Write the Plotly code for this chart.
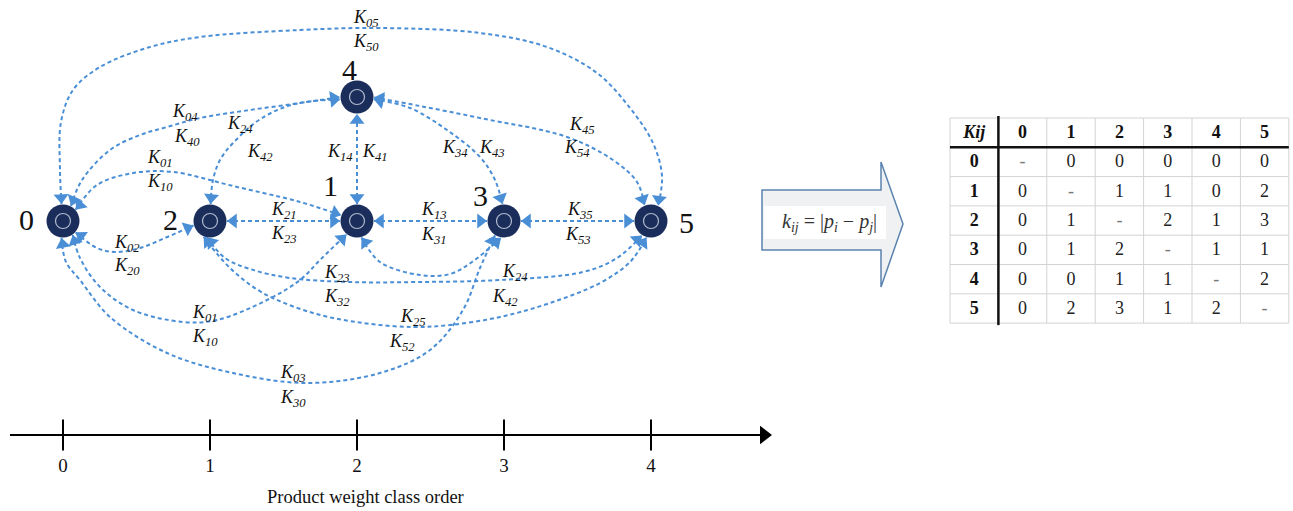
import math
import plotly.graph_objects as go

# ---------------- data ----------------
node_ids = [0, 1, 2, 3, 4, 5]
node_class = [0, 2, 1, 3, 2, 4]        # product weight class order of each node
node_tier = [0, 0, 0, 0, 1, 0]         # node 4 drawn on the raised row
axis_ticks = [0, 1, 2, 3, 4]
axis_title = "Product weight class order"

edge_from = [0, 0, 0, 2, 4, 4, 0, 2, 1, 3, 1, 2, 1, 0, 2, 0]
edge_to   = [5, 4, 1, 4, 3, 5, 2, 1, 3, 5, 4, 5, 3, 1, 5, 3]

edge_label_subs = ["05", "50", "04", "40", "24", "42", "01", "10", "14", "41",
                   "34", "43", "45", "54", "02", "20", "21", "23", "13", "31",
                   "35", "53", "23", "32", "24", "42", "01", "10", "25", "52",
                   "03", "30"]

table_header = ["Kij", "0", "1", "2", "3", "4", "5"]
table_row_labels = ["0", "1", "2", "3", "4", "5"]
table_values = [
    ["-", "0", "0", "0", "0", "0"],
    ["0", "-", "1", "1", "0", "2"],
    ["0", "1", "-", "2", "1", "3"],
    ["0", "1", "2", "-", "1", "1"],
    ["0", "0", "1", "1", "-", "2"],
    ["0", "2", "3", "1", "2", "-"],
]

# ---------------- layout / style ----------------
W, H = 1293, 511
PX0, PXSTEP = 63.0, 147.0          # pixel position of class 0 and pixels per class
ROW_Y, TIER_DY = 221.0, 124.0
R_TIP = 17.0
BLUE = "#4a8fd6"
NAVY = "#1b2d5b"
SERIF = "Liberation Serif, Times New Roman, serif"


def cx(px):
    return (px - PX0) / PXSTEP


def node_px(n):
    i = node_ids.index(n)
    return PX0 + PXSTEP * node_class[i], ROW_Y - TIER_DY * node_tier[i]


def tip(n, ang):
    x, y = node_px(n)
    a = math.radians(ang)
    return x + R_TIP * math.cos(a), y + R_TIP * math.sin(a)


# routing of each edge: attach angle at start, waypoints (px), attach angle at end
routes = [
    (-95, [(60, 170), (61, 122), (73, 90), (100, 67), (150, 47), (200, 37), (300, 30), (380, 28),
           (480, 33), (547, 47), (597, 73), (630, 108), (653, 143), (662, 176)], -65),
    (-62, [(82, 180), (110, 150), (140, 135), (167, 127), (200, 118), (250, 110), (300, 103)], 180),
    (-42, [(97, 185), (133, 173), (173, 172), (233, 186), (300, 202)], -160),
    (-88, [(213, 180), (220, 160), (234, 142), (262, 118), (295, 104)], 172),
    (8, [(410, 108), (447, 130), (480, 157), (495, 180)], -95),
    (2, [(420, 106), (480, 118), (567, 137), (613, 160), (637, 182)], -112),
    (42, [(97, 248), (115, 252), (140, 248), (165, 238)], 165),
    (0, [], 180),
    (0, [], 180),
    (0, [], 180),
    (-90, [], 90),
    (100, [(225, 258), (250, 269), (290, 278), (350, 282), (420, 282), (500, 280), (583, 272),
           (617, 258)], 122),
    (75, [(380, 262), (420, 275), (450, 274), (472, 262)], 100),
    (55, [(80, 258), (100, 287), (133, 310), (183, 322), (217, 320), (267, 300), (300, 280),
          (322, 258)], 128),
    (112, [(230, 268), (263, 293), (313, 313), (363, 323), (413, 327), (450, 325), (500, 317),
           (550, 303), (600, 283), (630, 262)], 105),
    (95, [(66, 262), (80, 280), (110, 317), (167, 353), (233, 373), (307, 383), (380, 373),
          (430, 350), (463, 310), (480, 268)], 122),
]

label_pos = [(366, 18), (366, 42), (185, 112), (187, 137), (240, 124), (260, 152),
             (160, 158), (160, 182), (340, 152), (375, 152), (455, 148), (492, 148),
             (582, 125), (577, 148), (127, 243), (127, 266), (284, 210), (284, 234),
             (434, 210), (434, 235), (580, 210), (578, 235), (337, 273), (337, 297),
             (515, 272), (505, 297), (205, 313), (205, 337), (413, 317), (402, 342),
             (293, 373), (293, 398)]

node_label_off = {0: (-37, -2), 1: (-27, -36), 2: (-40, -2), 3: (-24, -26), 4: (-8, -28), 5: (35, 1)}

fig = go.Figure()

arrow_x, arrow_y, arrow_ang = [], [], []
HEAD_R = 6.5   # triangle marker: tip lies HEAD_R px from marker centre


def add_head(frm, to):
    dx, dy = to[0] - frm[0], to[1] - frm[1]
    d = math.hypot(dx, dy) or 1.0
    ux, uy = dx / d, dy / d
    arrow_x.append(cx(to[0] - ux * HEAD_R))
    arrow_y.append(to[1] - uy * HEAD_R)
    arrow_ang.append(math.degrees(math.atan2(dx, -dy)))


for a, b, (a_ang, wps, b_ang) in zip(edge_from, edge_to, routes):
    p0 = tip(a, a_ang)
    p1 = tip(b, b_ang)
    pts = [p0] + list(wps) + [p1]
    fig.add_trace(go.Scatter(
        x=[cx(p[0]) for p in pts], y=[p[1] for p in pts], mode="lines",
        line=dict(color=BLUE, width=2, dash="4px,3px", shape="spline", smoothing=1.0),
        hoverinfo="skip"))
    add_head(pts[1], p0)
    add_head(pts[-2], p1)

fig.add_trace(go.Scatter(
    x=arrow_x, y=arrow_y, mode="markers",
    marker=dict(symbol="triangle-up", size=2 * HEAD_R, angle=arrow_ang, color=BLUE,
                line=dict(width=0)),
    hoverinfo="skip"))

# nodes
nx = [node_class[i] for i in range(len(node_ids))]
ny = [ROW_Y - TIER_DY * node_tier[i] for i in range(len(node_ids))]
fig.add_trace(go.Scatter(x=nx, y=ny, mode="markers",
                         marker=dict(size=33, color=NAVY, line=dict(width=0)), hoverinfo="skip"))
fig.add_trace(go.Scatter(x=nx, y=ny, mode="markers",
                         marker=dict(symbol="circle-open", size=15, color="rgba(185,195,212,0.95)",
                                     line=dict(color="rgba(185,195,212,0.95)", width=1.2)),
                         hoverinfo="skip"))

annotations = []
for n in node_ids:
    x, y = node_px(n)
    ox, oy = node_label_off[n]
    annotations.append(dict(x=cx(x + ox), y=y + oy, xref="x", yref="y", text=str(n),
                            showarrow=False, font=dict(family=SERIF, size=30, color="#111")))

for sub, (lx, ly) in zip(edge_label_subs, label_pos):
    annotations.append(dict(x=cx(lx), y=ly, xref="x", yref="y",
                            text="<i>K</i><sub><i>%s</i></sub>" % sub, showarrow=False,
                            font=dict(family=SERIF, size=18, color="#111")))

# bottom class axis
AX_Y = 435
fig.add_trace(go.Scatter(x=[cx(10), cx(762)], y=[AX_Y, AX_Y], mode="lines",
                         line=dict(color="black", width=2), hoverinfo="skip"))
fig.add_trace(go.Scatter(x=[cx(764)], y=[AX_Y], mode="markers",
                         marker=dict(symbol="triangle-right", size=16, color="black"),
                         hoverinfo="skip"))
fig.add_trace(go.Scatter(x=axis_ticks, y=[AX_Y] * len(axis_ticks), mode="markers",
                         marker=dict(symbol="line-ns", size=22, line=dict(color="black", width=2)),
                         hoverinfo="skip"))
fig.add_trace(go.Scatter(x=axis_ticks, y=[467] * len(axis_ticks), mode="text",
                         text=[str(t) for t in axis_ticks],
                         textfont=dict(family=SERIF, size=19, color="#111"), hoverinfo="skip"))
annotations.append(dict(x=cx(365), y=497, xref="x", yref="y", text=axis_title, showarrow=False,
                        font=dict(family=SERIF, size=18.5, color="#111")))

# formula block arrow (pixel axis x2)
shapes = []
shapes.append(dict(type="path", xref="x2", yref="y",
                   path="M 762 190 L 881 190 L 881 162 L 903 224 L 881 287 L 881 250 L 762 250 Z",
                   fillcolor="#f0f1f2", line=dict(color="#5a83b0", width=1.5), layer="below"))
shapes.append(dict(type="rect", xref="x2", yref="y", x0=764, x1=886, y0=206, y1=239,
                   fillcolor="white", line=dict(width=0), layer="below"))
annotations.append(dict(x=829, y=222, xref="x2", yref="y",
                        text="<i>k</i><sub><i>ij</i></sub> = |<i>p</i><sub><i>i</i></sub> − <i>p</i><sub><i>j</i></sub>|",
                        showarrow=False, font=dict(family=SERIF, size=20, color="#333")))

# table
T_X0, T_CW = 950.0, 48.4
T_Y0, T_RH = 118.0, 29.3
ncol = len(table_header)
nrow = len(table_row_labels) + 1
xs = [T_X0 + T_CW * k for k in range(ncol + 1)]
ys = [T_Y0 + T_RH * k for k in range(nrow + 1)]
GRID = "#d3d3d3"
for xv in xs:
    shapes.append(dict(type="line", xref="x2", yref="y", x0=xv, x1=xv, y0=ys[0], y1=ys[-1],
                       line=dict(color=GRID, width=1)))
for yv in ys:
    shapes.append(dict(type="line", xref="x2", yref="y", x0=xs[0], x1=xs[-1], y0=yv, y1=yv,
                       line=dict(color=GRID, width=1)))
shapes.append(dict(type="line", xref="x2", yref="y", x0=xs[0], x1=xs[-1], y0=ys[1], y1=ys[1],
                   line=dict(color="#111", width=2.5)))
shapes.append(dict(type="line", xref="x2", yref="y", x0=xs[1], x1=xs[1], y0=ys[0] - 2, y1=ys[-1] + 2,
                   line=dict(color="#111", width=2.5)))

hx = [(xs[k] + xs[k + 1]) / 2 for k in range(ncol)]
hy = [(ys[k] + ys[k + 1]) / 2 + 1 for k in range(nrow)]
header_text = ["<b><i>%s</i></b>" % table_header[0]] + ["<b>%s</b>" % h for h in table_header[1:]]
fig.add_trace(go.Scatter(x=hx, y=[hy[0]] * ncol, xaxis="x2", yaxis="y", mode="text",
                         text=header_text, textfont=dict(family=SERIF, size=18, color="#111"),
                         hoverinfo="skip"))
fig.add_trace(go.Scatter(x=[hx[0]] * len(table_row_labels), y=hy[1:], xaxis="x2", yaxis="y",
                         mode="text", text=["<b>%s</b>" % r for r in table_row_labels],
                         textfont=dict(family=SERIF, size=18, color="#111"), hoverinfo="skip"))
cxs, cys, ctx, ccol = [], [], [], []
for r, row in enumerate(table_values):
    for c, v in enumerate(row):
        cxs.append(hx[c + 1])
        cys.append(hy[r + 1])
        ctx.append(v)
        ccol.append("#777" if v == "-" else "#222")
fig.add_trace(go.Scatter(x=cxs, y=cys, xaxis="x2", yaxis="y", mode="text", text=ctx,
                         textfont=dict(family=SERIF, size=18, color=ccol), hoverinfo="skip"))

fig.update_layout(
    width=W, height=H, margin=dict(l=0, r=0, t=0, b=0),
    paper_bgcolor="white", plot_bgcolor="white", showlegend=False,
    xaxis=dict(range=[cx(0), cx(W)], visible=False, fixedrange=True),
    xaxis2=dict(range=[0, W], overlaying="x", visible=False, fixedrange=True),
    yaxis=dict(range=[H, 0], visible=False, fixedrange=True),
    shapes=shapes, annotations=annotations,
)

fig.write_html("out.html", config={"displayModeBar": False},
               post_script="document.body.style.margin='0';document.body.style.overflow='hidden';")
